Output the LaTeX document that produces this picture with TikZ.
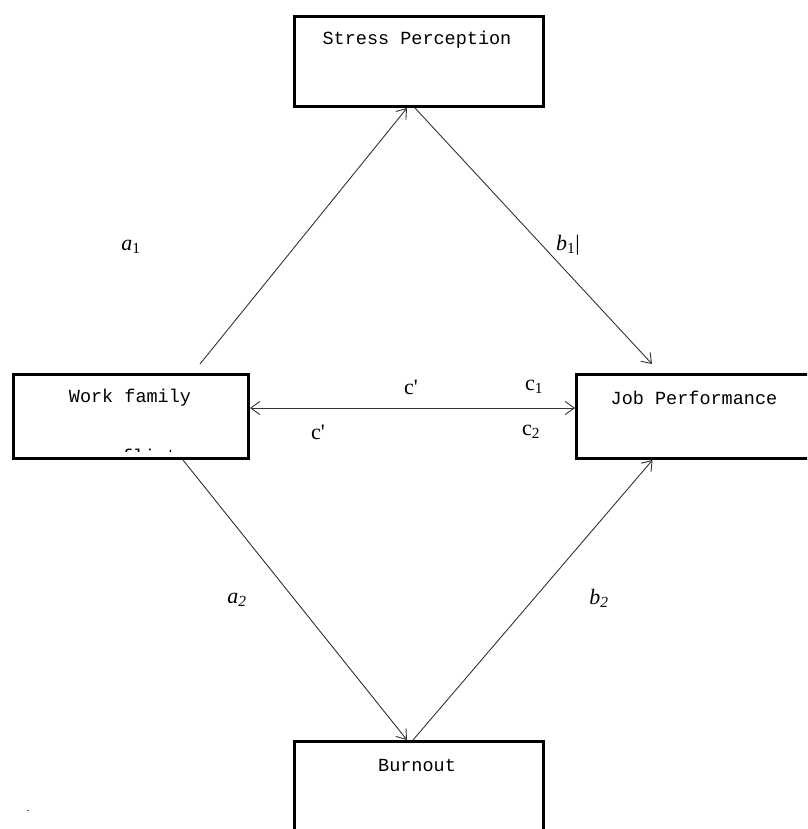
\documentclass[tikz,border=0pt]{standalone}
\usepackage{fontspec}
\setmainfont{Liberation Serif}[Ligatures=TeXOff]
\newfontfamily\boxfont{Liberation Mono}
\usetikzlibrary{arrows.meta,calc}
\begin{document}
\begin{tikzpicture}[x=1pt,y=-1pt,
  box/.style={draw, line width=3pt, rectangle, inner sep=0pt},
  boxtext/.style={font=\boxfont\fontsize{18.5}{20}\selectfont, inner sep=0pt, text=black},
  lbl/.style={font=\fontsize{22}{24}\selectfont, inner sep=0pt},
  conn/.style={line width=0.9pt, draw=black!80, -{Straight Barb[length=9pt,width=13pt,line width=0.9pt]}},
  dconn/.style={line width=0.9pt, draw=black!80, {Straight Barb[length=9pt,width=13pt,line width=0.9pt]}-{Straight Barb[length=9pt,width=13pt,line width=0.9pt]}}]
\useasboundingbox (0,0) rectangle (807,829);
\clip (0,0) rectangle (807,829);
\fill[white] (0,0) rectangle (807,829);
% boxes
\node[box, minimum width=249pt, minimum height=90pt] (sp) at (419,61.5) {};
\node[box, minimum width=235pt, minimum height=84pt] (wf) at (131,416.5) {};
\node[box, minimum width=262pt, minimum height=84pt] (jp) at (707.5,416.5) {};
\node[box, minimum width=249pt, minimum height=100pt] (bo) at (419,791.5) {};
% box texts
\node[boxtext] (spt) at (417,40) {Stress Perception};
\node[boxtext] (wft) at (130,398) {Work family};
\node[boxtext] (jpt) at (694,398) {Job Performance};
\node[boxtext] (bot) at (417,765) {Burnout};
\begin{scope}
  \clip (0,0) rectangle (807,451);
  \node[boxtext, anchor=base] (wft2) at (133,462.5) {conflict};
\end{scope}
% connector ends
\coordinate (wfa) at (200,364);
\coordinate (jpa) at (652,364);
% connectors
\draw[conn] (wfa) -- ([xshift=-12pt]sp.south);
\draw[conn] ([xshift=-4pt]sp.south) -- (jpa);
\draw[dconn] ([yshift=8.5pt]wf.east) -- ([yshift=8.5pt]jp.west);
\draw[conn] ([xshift=52pt]wf.south) -- ([xshift=-12pt]bo.north);
\draw[conn] ([xshift=-6pt]bo.north) -- ([xshift=-55pt]jp.south);
% labels
\node[lbl] (la1) at (131,247) {\textit{a}\textsubscript{1}};
\node[lbl] (lb1) at (568,245) {\textit{b}\textsubscript{1}|};
\node[lbl] (lc1a) at (411,387) {c'};
\node[lbl] (lc1) at (534,387) {c\textsubscript{1}};
\node[lbl] (lc2a) at (318,432) {c'};
\node[lbl] (lc2) at (531,432) {c\textsubscript{2}};
\node[lbl] (la2) at (237,600) {\textit{a}\textsubscript{\textit{2}}};
\node[lbl] (lb2) at (599,598) {\textit{b}\textsubscript{\textit{2}}};
\node[lbl, font=\fontsize{12}{12}\selectfont] (dot) at (28,811) {.};
\end{tikzpicture}
\end{document}
